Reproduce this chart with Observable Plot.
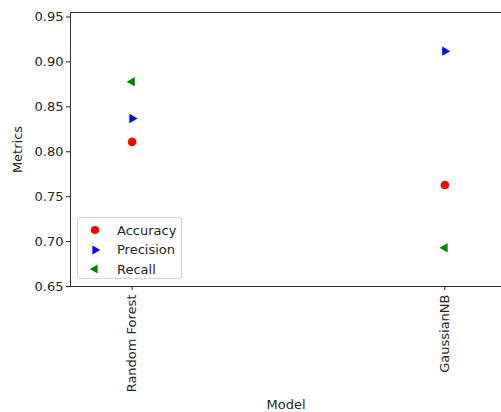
<!DOCTYPE html>
<html><head><meta charset="utf-8">
<script src="https://cdn.jsdelivr.net/npm/d3@7"></script>
<script src="https://cdn.jsdelivr.net/npm/@observablehq/plot@0.6"></script>
<style>
body{margin:0;background:#fff;font-family:"DejaVu Sans",sans-serif;}
#wrap{position:relative;width:501px;height:412px;overflow:hidden;}
#legend{position:absolute;left:77px;top:217px;width:105px;height:62px;border:1px solid #d8d8d8;border-radius:3px;background:rgba(255,255,255,0.8);box-sizing:border-box;}
</style></head><body>
<div id="wrap"><div id="chart"></div><div id="legend"></div></div>
<script>
const models = ["Random Forest", "GaussianNB"];
const accuracy = [0.811, 0.763];
const precision = [0.837, 0.912];
const recall = [0.878, 0.693];
const metricNames = ["Accuracy", "Precision", "Recall"];
const metricColors = ["red", "blue", "green"];
const metricSymbols = ["circle", "triangle", "triangle"];
const metricRotate = [0, 90, -90];
const yTicks = [0.65, 0.70, 0.75, 0.80, 0.85, 0.90, 0.95];
const yDomain = [0.65, 0.955];
const xDomain = [-0.197, 1.181];

const series = [accuracy, precision, recall];
const rows = [];
series.forEach((vals, k) => vals.forEach((v, i) => rows.push({i, v, k})));

const chart = Plot.plot({
  width: 501, height: 412,
  marginLeft: 70, marginRight: 0, marginTop: 12, marginBottom: 126,
  style: {fontFamily: "DejaVu Sans, sans-serif", fontSize: "13px", color: "#262626", background: "white"},
  x: {type: "linear", domain: xDomain},
  y: {domain: yDomain},
  marks: [
    Plot.ruleY([yDomain[1]], {stroke: "#333", strokeWidth: 1}),
    Plot.ruleY([yDomain[0]], {stroke: "#333", strokeWidth: 1}),
    Plot.ruleX([xDomain[0]], {stroke: "#333", strokeWidth: 1}),
    Plot.axisY({ticks: yTicks, tickFormat: d3.format(".2f"), tickSize: 4, tickPadding: 3, label: "Metrics", labelAnchor: "center", labelArrow: "none", labelOffset: 58, fontSize: 13}),
    Plot.axisX({ticks: [0, 1], tickFormat: i => models[i], tickSize: 4, tickPadding: 4, tickRotate: -90, label: "Model", labelAnchor: "center", labelArrow: "none", labelOffset: 122, fontSize: 13}),
    ...metricNames.map((name, k) => Plot.dot(rows.filter(d => d.k === k), {
      x: "i", y: "v", fill: metricColors[k], stroke: null,
      symbol: metricSymbols[k], rotate: metricRotate[k], r: k === 0 ? 4.3 : 3.5
    }))
  ]
});
document.getElementById("chart").appendChild(chart);

// legend
const lg = d3.select("#legend");
metricNames.forEach((name, k) => {
  const row = lg.append("div").style("position","absolute").style("left","10px").style("top", (3.5 + k*19.5) + "px")
    .style("height","17px").style("display","flex").style("align-items","center");
  const svg = row.append("svg").attr("width", 14).attr("height", 14).style("margin-right","15px");
  const sym = d3.symbol(k === 0 ? d3.symbolCircle : d3.symbolTriangle, k === 0 ? 52 : 36)();
  svg.append("path").attr("d", sym).attr("fill", metricColors[k])
    .attr("transform", `translate(7,7) rotate(${metricRotate[k]})`);
  row.append("span").text(name).style("font-size","13px").style("color","#262626");
});
</script>
</body></html>
